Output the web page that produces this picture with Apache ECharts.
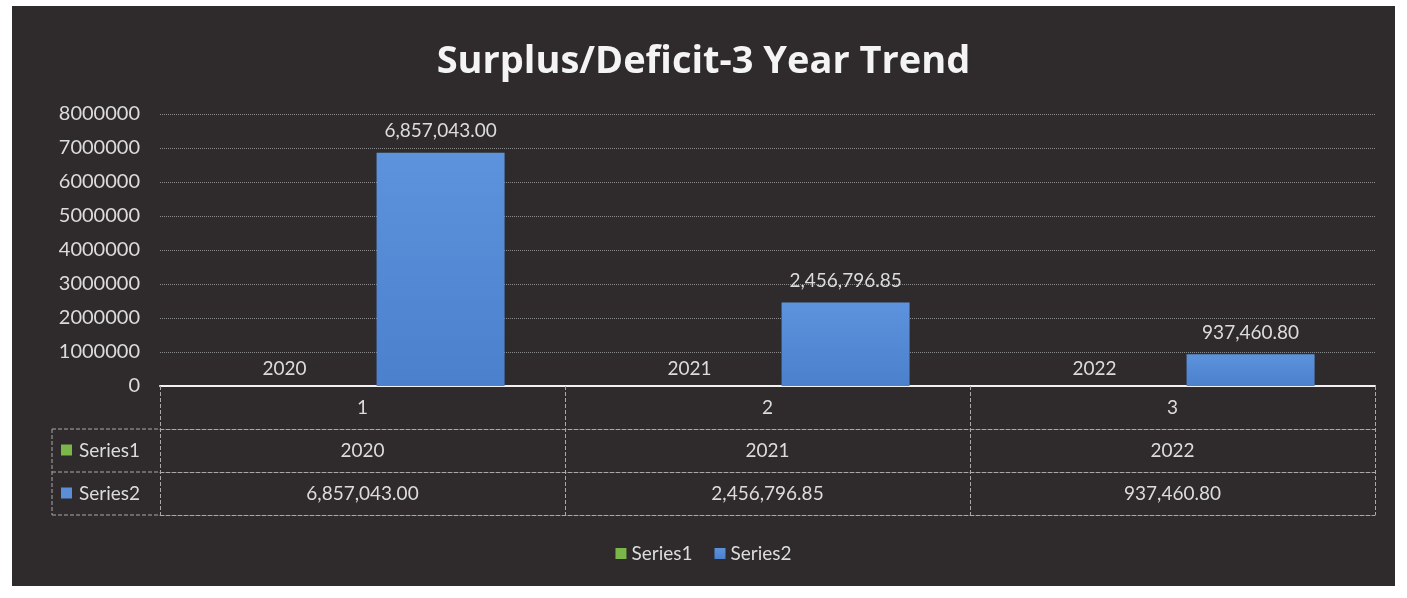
<!DOCTYPE html>
<html><head><meta charset="utf-8">
<script src="https://cdn.jsdelivr.net/npm/echarts@6/dist/echarts.min.js"></script>
<style>
html,body{margin:0;padding:0;background:#ffffff;width:1407px;height:598px;overflow:hidden;}
#chart{position:absolute;left:12px;top:6px;width:1383px;height:580px;background:#2f2b2c;}
</style></head>
<body><div id="chart"></div>
<script>
const titleText = 'Surplus/Deficit-3 Year Trend';
const categories = ['1', '2', '3'];
const seriesNames = ['Series1', 'Series2'];
const series1 = [2020, 2021, 2022];
const series2 = [6857043.00, 2456796.85, 937460.80];
const yTicks = [0, 1000000, 2000000, 3000000, 4000000, 5000000, 6000000, 7000000, 8000000];

const FONT = 'Lato, "Open Sans", sans-serif';
const TXT = '#dcdcdc';
const LINE = '#a9a9a9';
const fmt2 = v => v.toLocaleString('en-US', {minimumFractionDigits: 2, maximumFractionDigits: 2});

// layout constants (container coordinates)
const G = {left: 148, top: 108, width: 1215, height: 272};
const ROW = 43;
const gridBottomY = G.top + G.height;
const tableLeft = 40;

const chart = echarts.init(document.getElementById('chart'));
const rowAxis = (offset, labels, showLabel) => ({
  type: 'category', gridIndex: 0, position: 'bottom', offset: offset,
  data: categories,
  axisLine: {show: true, lineStyle: {color: LINE, width: 1, type: 'dashed'}},
  axisTick: {show: false},
  axisLabel: {show: showLabel, color: TXT, fontSize: 19, fontFamily: FONT, margin: 12,
    formatter: (v, i) => labels ? labels[i] : v},
  splitLine: {show: false}
});

chart.setOption({
  animation: false,
  title: {text: titleText, left: 'center', top: 32,
    textStyle: {color: '#f4f4f4', fontSize: 38, fontWeight: 'bold', fontFamily: '"Open Sans", Lato, sans-serif'}},
  grid: {left: G.left, top: G.top, width: G.width, height: G.height, containLabel: false},
  legend: {data: seriesNames, bottom: 18, left: 'center', icon: 'rect', itemWidth: 11, itemHeight: 11, itemGap: 22,
    textStyle: {color: TXT, fontSize: 19, fontFamily: FONT}},
  xAxis: [
    {type: 'category', data: categories, boundaryGap: true, position: 'bottom',
      axisLine: {show: true, lineStyle: {color: '#f2f2f2', width: 2}},
      axisTick: {show: true, length: ROW * 3, lineStyle: {color: LINE, width: 1, type: 'dashed'}},
      axisLabel: {color: TXT, fontSize: 19, fontFamily: FONT, margin: 12}},
    rowAxis(ROW, series1.map(String), true),
    rowAxis(ROW * 2, series2.map(fmt2), true),
    rowAxis(ROW * 3, null, false)
  ],
  yAxis: {type: 'value', min: 0, max: yTicks[yTicks.length - 1], interval: yTicks[1] - yTicks[0],
    axisLine: {show: false}, axisTick: {show: false},
    axisLabel: {color: TXT, fontSize: 20, fontFamily: FONT, margin: 20, formatter: v => String(v)},
    splitLine: {show: true, lineStyle: {color: '#8a8a8a', width: 1, type: 'dotted'}}},
  series: [
    {name: seriesNames[0], type: 'bar', data: series1, barWidth: 128, barGap: '22%',
      itemStyle: {color: '#7ab648'},
      label: {show: true, position: 'top', distance: 8, color: TXT, fontSize: 19, fontFamily: FONT, formatter: p => String(p.value)}},
    {name: seriesNames[1], type: 'bar', data: series2, barWidth: 128,
      itemStyle: {color: new echarts.graphic.LinearGradient(0, 0, 0, 1, [
        {offset: 0, color: '#5d93dc'}, {offset: 1, color: '#4b80cd'}])},
      label: {show: true, position: 'top', distance: 12, color: TXT, fontSize: 19, fontFamily: FONT, formatter: p => fmt2(p.value)}}
  ],
  graphic: [
    // left column of data table
    {type: 'line', shape: {x1: tableLeft, y1: gridBottomY + ROW, x2: G.left, y2: gridBottomY + ROW}, style: {stroke: LINE, lineWidth: 1, lineDash: [4, 2]}},
    {type: 'line', shape: {x1: tableLeft, y1: gridBottomY + ROW * 2, x2: G.left, y2: gridBottomY + ROW * 2}, style: {stroke: LINE, lineWidth: 1, lineDash: [4, 2]}},
    {type: 'line', shape: {x1: tableLeft, y1: gridBottomY + ROW * 3, x2: G.left, y2: gridBottomY + ROW * 3}, style: {stroke: LINE, lineWidth: 1, lineDash: [4, 2]}},
    {type: 'line', shape: {x1: tableLeft, y1: gridBottomY + ROW, x2: tableLeft, y2: gridBottomY + ROW * 3}, style: {stroke: LINE, lineWidth: 1, lineDash: [4, 2]}},
    {type: 'rect', shape: {x: tableLeft + 9, y: gridBottomY + ROW * 1.5 - 6, width: 11, height: 11}, style: {fill: '#7ab648'}},
    {type: 'text', x: tableLeft + 27, y: gridBottomY + ROW * 1.5, style: {text: seriesNames[0], fill: TXT, font: '19px ' + FONT, textVerticalAlign: 'middle'}},
    {type: 'rect', shape: {x: tableLeft + 9, y: gridBottomY + ROW * 2.5 - 6, width: 11, height: 11}, style: {fill: '#5a8fd8'}},
    {type: 'text', x: tableLeft + 27, y: gridBottomY + ROW * 2.5, style: {text: seriesNames[1], fill: TXT, font: '19px ' + FONT, textVerticalAlign: 'middle'}}
  ]
});
</script></body></html>
